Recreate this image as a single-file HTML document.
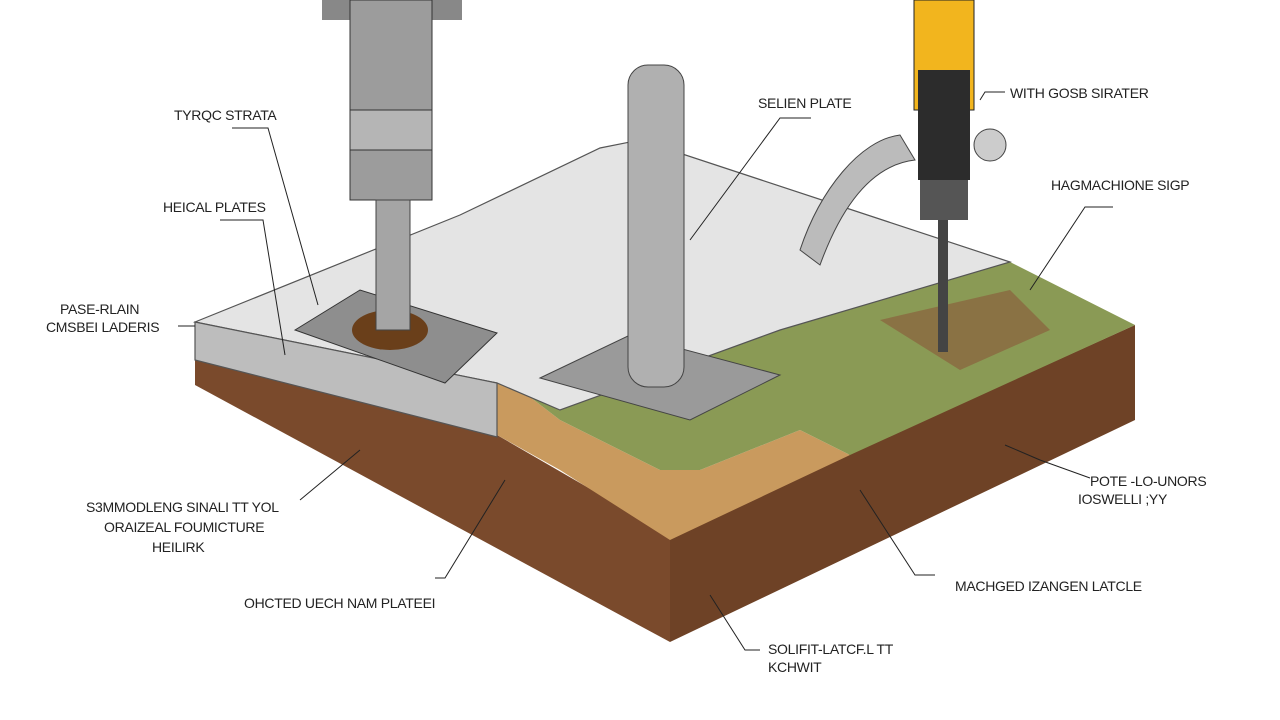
<!DOCTYPE html>
<html><head><meta charset="utf-8"><style>
body{margin:0;background:#fff}
svg{display:block}
text{font-family:"Liberation Sans",sans-serif;font-size:14px;fill:#222;letter-spacing:-0.3px}
</style></head><body>
<svg width="1280" height="720" viewBox="0 0 1280 720">
<!-- soil left face -->
<polygon points="195,345 497,435 670,535 670,642 195,385" fill="#7a4a2c"/>
<!-- soil right face -->
<polygon points="670,535 1135,325 1135,420 670,642" fill="#6e4226"/>
<!-- sand -->
<polygon points="495,370 560,420 660,470 700,470 800,430 850,455 670,540 560,470 497,435" fill="#c99a5e"/>
<!-- grass top -->
<polygon points="495,370 1010,262 1135,325 850,455 800,430 700,470 660,470 560,420" fill="#8a9a55"/>
<polygon points="880,320 1010,290 1050,330 960,370" fill="#8a4a34" opacity="0.5"/>
<!-- slab top -->
<polygon points="195,322 460,215 600,148 640,140 1010,262 780,330 560,410 497,383" fill="#e4e4e4" stroke="#555" stroke-width="1.2"/>
<!-- slab front -->
<polygon points="195,322 497,383 497,437 195,360" fill="#bdbdbd" stroke="#555" stroke-width="1.2"/>
<!-- left plate -->
<polygon points="295,330 360,290 497,333 445,383" fill="#8e8e8e" stroke="#333"/>
<ellipse cx="390" cy="330" rx="38" ry="20" fill="#6a3f1a"/>
<!-- center plate -->
<polygon points="540,378 630,335 780,375 690,420" fill="#9a9a9a" stroke="#444"/>
<!-- left drill -->
<rect x="322" y="0" width="140" height="20" fill="#888"/>
<rect x="350" y="0" width="82" height="200" fill="#9c9c9c" stroke="#333"/>
<rect x="350" y="110" width="82" height="40" fill="#b5b5b5" stroke="#333"/>
<rect x="376" y="200" width="34" height="130" fill="#a5a5a5" stroke="#444"/>
<!-- center screw -->
<rect x="628" y="65" width="56" height="322" rx="20" fill="#b0b0b0" stroke="#444"/>
<!-- right drill -->
<rect x="914" y="0" width="60" height="110" fill="#f2b51e" stroke="#222"/>
<rect x="918" y="70" width="52" height="110" fill="#2c2c2c"/>
<rect x="920" y="180" width="48" height="40" fill="#555"/>
<path d="M900 135 C860 140,820 190,800 250 L820 265 C840 210,870 165,915 160 Z" fill="#bbb" stroke="#444"/>
<circle cx="990" cy="145" r="16" fill="#ccc" stroke="#444"/>
<rect x="938" y="220" width="10" height="132" fill="#444"/>
<!-- leaders -->
<g stroke="#222" stroke-width="1" fill="none">
<polyline points="232,128 268,128 318,305"/>
<polyline points="220,220 263,220 285,355"/>
<polyline points="178,326 195,326"/>
<polyline points="811,118 780,118 690,240"/>
<polyline points="1005,92 985,92 980,100"/>
<polyline points="1113,207 1085,207 1030,290"/>
<polyline points="300,500 360,450"/>
<polyline points="435,578 445,578 505,480"/>
<polyline points="1090,478 1040,460 1005,445"/>
<polyline points="935,575 915,575 860,490"/>
<polyline points="760,650 745,650 710,595"/>
</g>
<text x="174" y="120">TYRQC STRATA</text>
<text x="163" y="212">HEICAL PLATES</text>
<text x="60" y="314">PASE-RLAIN</text>
<text x="46" y="332">CMSBEI LADERIS</text>
<text x="758" y="108">SELIEN PLATE</text>
<text x="1010" y="98">WITH GOSB SIRATER</text>
<text x="1051" y="190">HAGMACHIONE SIGP</text>
<text x="86" y="512">S3MMODLENG SINALI TT YOL</text>
<text x="104" y="532">ORAIZEAL FOUMICTURE</text>
<text x="152" y="552">HEILIRK</text>
<text x="244" y="608">OHCTED UECH NAM PLATEEI</text>
<text x="1090" y="486">POTE -LO-UNORS</text>
<text x="1078" y="504">IOSWELLI ;YY</text>
<text x="955" y="591">MACHGED IZANGEN LATCLE</text>
<text x="768" y="654">SOLIFIT-LATCF.L TT</text>
<text x="768" y="672">KCHWIT</text>
</svg>
</body></html>
